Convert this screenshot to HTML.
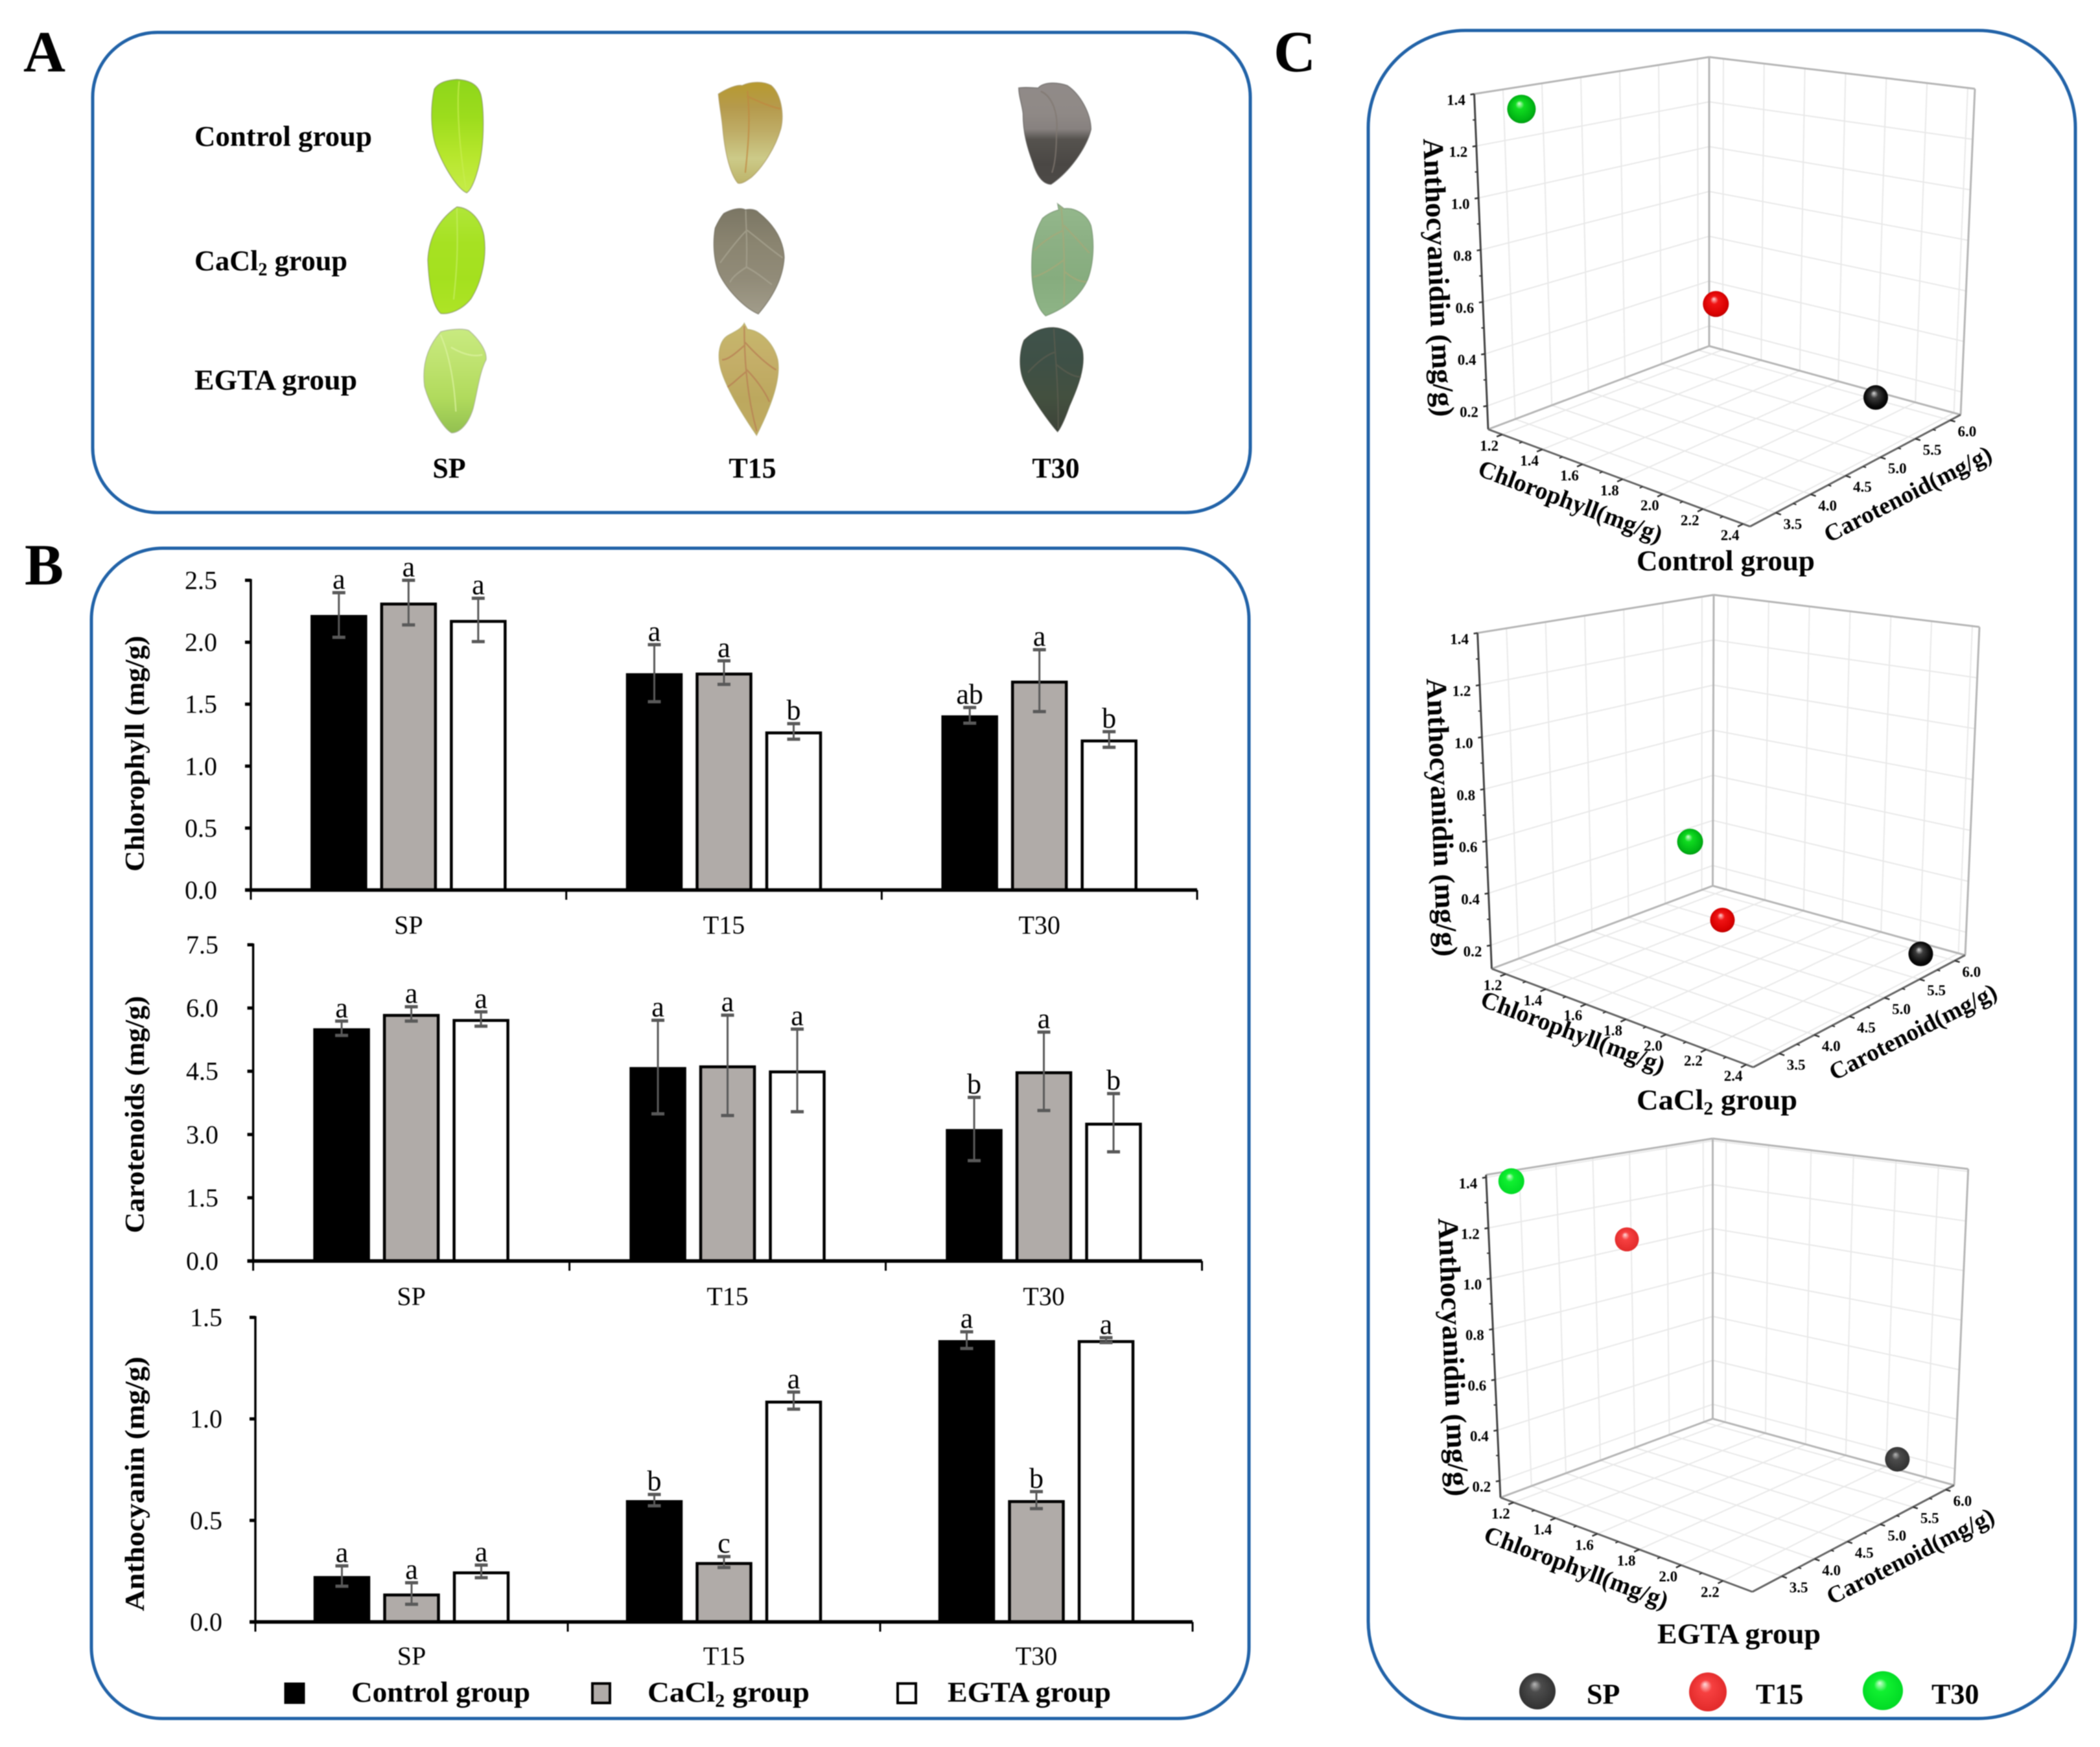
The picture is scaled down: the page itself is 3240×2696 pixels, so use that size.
<!DOCTYPE html>
<html lang="en">
<head>
<meta charset="utf-8">
<title>Leaf phenotypes, pigment contents and 3D pigment distribution</title>
<style>
html,body{margin:0;padding:0;background:#fff;}
svg{display:block;filter:blur(0.9px);}
text{font-family:"Liberation Serif",serif;fill:#000;}
.b{font-weight:bold;}
</style>
</head>
<body>
<svg id="fig" xmlns="http://www.w3.org/2000/svg" width="3240" height="2696" viewBox="0 0 3240 2696">
<defs>
<radialGradient id="sph-black" cx="50%" cy="50%" r="55%" fx="42%" fy="32%"><stop offset="0" stop-color="#d8d8d8"/><stop offset=".28" stop-color="#3c3c3c"/><stop offset=".75" stop-color="#0a0a0a"/><stop offset="1" stop-color="#000"/></radialGradient>
<radialGradient id="sph-gray" cx="50%" cy="50%" r="55%" fx="42%" fy="30%"><stop offset="0" stop-color="#b8b8b8"/><stop offset=".3" stop-color="#4c4c4c"/><stop offset="1" stop-color="#2e2e2e"/></radialGradient>
<radialGradient id="sph-red" cx="50%" cy="50%" r="55%" fx="42%" fy="30%"><stop offset="0" stop-color="#ffd6d6"/><stop offset=".28" stop-color="#f01414"/><stop offset=".8" stop-color="#d80000"/><stop offset="1" stop-color="#b00000"/></radialGradient>
<radialGradient id="sph-lightred" cx="50%" cy="50%" r="55%" fx="42%" fy="30%"><stop offset="0" stop-color="#ffdcdc"/><stop offset=".3" stop-color="#f64040"/><stop offset="1" stop-color="#e02828"/></radialGradient>
<radialGradient id="sph-green" cx="50%" cy="50%" r="55%" fx="42%" fy="30%"><stop offset="0" stop-color="#d4ffd4"/><stop offset=".28" stop-color="#10dc20"/><stop offset=".8" stop-color="#00b414"/><stop offset="1" stop-color="#009010"/></radialGradient>
<radialGradient id="sph-lightgreen" cx="50%" cy="50%" r="55%" fx="42%" fy="30%"><stop offset="0" stop-color="#d4ffd8"/><stop offset=".3" stop-color="#10f030"/><stop offset="1" stop-color="#00d824"/></radialGradient>
</defs>

<rect x="0" y="0" width="3240" height="2696" fill="#fff"/>

<rect x="143" y="50" width="1786" height="741" rx="100" ry="100" fill="none" stroke="#2263a8" stroke-width="5"/>
<rect x="141" y="846" width="1786" height="1806" rx="110" ry="110" fill="none" stroke="#2263a8" stroke-width="5"/>
<rect x="2111" y="47" width="1091" height="2605" rx="150" ry="150" fill="none" stroke="#2263a8" stroke-width="5"/>

<text class="b" x="36" y="110" font-size="90">A</text>
<text class="b" x="38" y="902" font-size="90">B</text>
<text class="b" x="1965" y="110" font-size="90">C</text>

<g>
<text class="b" x="300" y="225" font-size="44" textLength="274" lengthAdjust="spacingAndGlyphs">Control group</text>
<text class="b" x="300" y="417" font-size="44" textLength="236" lengthAdjust="spacingAndGlyphs">CaCl<tspan font-size="28" dy="8">2</tspan><tspan dy="-8"> group</tspan></text>
<text class="b" x="300" y="601" font-size="44" textLength="251" lengthAdjust="spacingAndGlyphs">EGTA group</text>
<text class="b" x="693" y="737" font-size="44" text-anchor="middle">SP</text>
<text class="b" x="1161" y="737" font-size="44" text-anchor="middle">T15</text>
<text class="b" x="1629" y="737" font-size="44" text-anchor="middle">T30</text>
</g>
<g id="leaves"></g>

<g id="bars"></g>

<g>
<rect x="440" y="2598" width="29" height="30" fill="#000" stroke="#000" stroke-width="3"/>
<text class="b" x="542" y="2626" font-size="44" textLength="276" lengthAdjust="spacingAndGlyphs">Control group</text>
<rect x="914" y="2598" width="27" height="30" fill="#b0aba8" stroke="#000" stroke-width="4"/>
<text class="b" x="999" y="2626" font-size="44" textLength="250" lengthAdjust="spacingAndGlyphs">CaCl<tspan font-size="28" dy="8">2</tspan><tspan dy="-8"> group</tspan></text>
<rect x="1385" y="2598" width="28" height="30" fill="#fff" stroke="#000" stroke-width="4"/>
<text class="b" x="1462" y="2626" font-size="44" textLength="252" lengthAdjust="spacingAndGlyphs">EGTA group</text>
</g>

<g id="plots3d"></g>

<text class="b" x="2525" y="880" font-size="44" textLength="275" lengthAdjust="spacingAndGlyphs">Control group</text>
<text class="b" x="2525" y="1712" font-size="44" textLength="248" lengthAdjust="spacingAndGlyphs">CaCl<tspan font-size="28" dy="8">2</tspan><tspan dy="-8">  group</tspan></text>
<text class="b" x="2557" y="2536" font-size="44" textLength="252" lengthAdjust="spacingAndGlyphs">EGTA group</text>

<g>
<ellipse cx="2372" cy="2610" rx="28" ry="28" fill="url(#sph-gray)"/>
<text class="b" x="2448" y="2629" font-size="44">SP</text>
<ellipse cx="2635" cy="2611" rx="29" ry="30" fill="url(#sph-lightred)"/>
<text class="b" x="2709" y="2629" font-size="44">T15</text>
<ellipse cx="2905" cy="2609" rx="31" ry="30" fill="url(#sph-lightgreen)"/>
<text class="b" x="2980" y="2629" font-size="44">T30</text>
</g>
</svg>

<script>
// ---------- chart data ----------
const categories = ['SP', 'T15', 'T30'];
const seriesNames = ['control', 'cacl2', 'egta'];

const chlorophyllControl = [2.22, 1.75, 1.41];
const chlorophyllCacl2 = [2.32, 1.755, 1.69];
const chlorophyllEgta = [2.18, 1.28, 1.215];
const chlorophyllControlErr = [0.18, 0.23, 0.063];
const chlorophyllCacl2Err = [0.18, 0.095, 0.25];
const chlorophyllEgtaErr = [0.175, 0.063, 0.063];
const chlorophyllControlSig = ['a', 'a', 'ab'];
const chlorophyllCacl2Sig = ['a', 'a', 'a'];
const chlorophyllEgtaSig = ['a', 'b', 'b'];
const chlorophyllTicks = ['0.0', '0.5', '1.0', '1.5', '2.0', '2.5'];

const carotenoidControl = [5.52, 4.6, 3.13];
const carotenoidCacl2 = [5.86, 4.64, 4.5];
const carotenoidEgta = [5.74, 4.52, 3.28];
const carotenoidControlErr = [0.17, 1.11, 0.75];
const carotenoidCacl2Err = [0.17, 1.19, 0.93];
const carotenoidEgtaErr = [0.17, 0.98, 0.69];
const carotenoidControlSig = ['a', 'a', 'b'];
const carotenoidCacl2Sig = ['a', 'a', 'a'];
const carotenoidEgtaSig = ['a', 'a', 'b'];
const carotenoidTicks = ['0.0', '1.5', '3.0', '4.5', '6.0', '7.5'];

const anthocyaninControl = [0.226, 0.6, 1.388];
const anthocyaninCacl2 = [0.14, 0.295, 0.6];
const anthocyaninEgta = [0.249, 1.09, 1.388];
const anthocyaninControlErr = [0.05, 0.028, 0.041];
const anthocyaninCacl2Err = [0.053, 0.027, 0.042];
const anthocyaninEgtaErr = [0.031, 0.042, 0.012];
const anthocyaninControlSig = ['a', 'b', 'a'];
const anthocyaninCacl2Sig = ['a', 'c', 'b'];
const anthocyaninEgtaSig = ['a', 'a', 'a'];
const anthocyaninTicks = ['0.0', '0.5', '1.0', '1.5'];

// 3D scatter values, ordered SP, T15, T30
const controlChl3d = [2.22, 1.74, 1.35];
const controlCar3d = [5.52, 4.6, 3.13];
const controlAnt3d = [0.22, 0.59, 1.375];
const cacl2Chl3d = [2.31, 1.74, 1.63];
const cacl2Car3d = [5.86, 4.64, 4.5];
const cacl2Ant3d = [0.13, 0.29, 0.585];
const egtaChl3d = [2.18, 1.28, 1.2];
const egtaCar3d = [5.74, 4.52, 3.2];
const egtaAnt3d = [0.255, 1.09, 1.388];

const chlTicks3dLong = ['1.2', '1.4', '1.6', '1.8', '2.0', '2.2', '2.4'];
const chlTicks3dShort = ['1.2', '1.4', '1.6', '1.8', '2.0', '2.2'];
const carTicks3d = ['3.5', '4.0', '4.5', '5.0', '5.5', '6.0'];
const antTicks3d = ['0.2', '0.4', '0.6', '0.8', '1.0', '1.2', '1.4'];

// ---------- helpers ----------
const NS = 'http://www.w3.org/2000/svg';
function make(tag, attrs, parent) {
  const n = document.createElementNS(NS, tag);
  for (const k in attrs) n.setAttribute(k, attrs[k]);
  parent.appendChild(n);
  return n;
}

// ---------- panel A leaves (outlines traced per leaf) ----------
const leafCards = [
  {n:'control-sp', ox:630, edge:'#7d8a60',
   d:'M225 60C270 62 320 75 335 120C350 170 350 280 340 350C330 420 300 510 270 525C230 510 170 430 130 340C105 280 100 180 120 100C140 70 190 62 225 60Z',
   c:['#8ed61a','#9cdc1c','#b6e62c','#c6ec48'], ys:[60,525],
   veins:'M235 70C225 150 230 300 265 500', vc:'#c8ec50'},
  {n:'cacl2-sp', ox:630, edge:'#7d8a60',
   d:'M225 583C280 585 335 630 350 700C365 790 340 890 290 960C250 1005 190 1025 150 1020C110 990 95 900 90 800C95 720 130 640 225 583Z',
   c:['#b0e638','#a6e122','#a4e01e','#aee426'], ys:[583,1025],
   veins:'M225 590C225 680 235 760 210 960', vc:'#c4ee60'},
  {n:'egta-sp', ox:630, edge:'#a0a890',
   d:'M150 1095C190 1085 250 1080 280 1090C320 1120 365 1170 360 1210C330 1260 320 1340 300 1410C280 1470 240 1510 200 1510C160 1490 100 1400 75 1320C65 1250 75 1170 150 1095Z',
   c:['#c8ea80','#bee26e','#b0da5c','#92c050'], ys:[1085,1510],
   veins:'M150 1110C180 1170 210 1270 220 1420M200 1160C240 1180 290 1200 340 1190', vc:'#dcf2a0'},
  {n:'control-t15', ox:1080, edge:'#a89860',
   d:'M85 120C120 100 170 80 195 85C230 70 290 65 330 85C375 120 390 200 375 260C350 340 290 420 240 460C210 480 190 490 175 485C140 450 115 360 105 260C100 210 90 170 85 120Z',
   c:['#b79a2e','#b59a4c','#bfae68','#ccca88','#bcb268'], ys:[70,490],
   veins:'M220 110C230 200 230 280 210 440M220 130C270 150 320 170 370 180', vc:'#c08840'},
  {n:'cacl2-t15', ox:1080, edge:'#6a6658',
   d:'M110 610C150 590 190 585 210 595C235 590 260 595 270 605C320 640 385 700 390 790C385 880 330 960 270 1022C210 1000 130 930 90 860C60 800 60 720 70 670C85 640 100 620 110 610Z',
   c:['#7b7664','#8a8470','#918b78','#a19c8a'], ys:[590,1022],
   veins:'M212 600C212 660 220 710 215 830M215 680C170 720 120 780 95 810M220 680C280 720 330 760 380 790M215 830C180 850 150 870 140 890M215 830C260 850 300 880 330 900', vc:'#a8a492'},
  {n:'egta-t15', ox:1080, edge:'#b0a868',
   d:'M205 1060L220 1085C280 1090 340 1140 360 1210C375 1290 330 1400 262 1520C200 1440 130 1340 100 1260C75 1190 90 1130 130 1110C160 1095 190 1085 205 1060Z',
   c:['#c6b86c','#c4ae68','#bca85e','#c0aa60'], ys:[1060,1520],
   veins:'M205 1075C205 1200 215 1350 262 1500M207 1150C170 1180 130 1210 105 1210M210 1140C250 1180 310 1230 350 1250M212 1260C170 1290 150 1310 130 1320M215 1250C260 1290 300 1340 320 1380', vc:'#b87c52'},
  {n:'control-t30', ox:1550, edge:'#5a5856',
   d:'M65 95C100 90 130 95 155 95C180 70 240 70 290 85C350 120 400 200 400 265C380 340 300 440 215 490C180 490 150 460 130 400C105 340 85 280 85 200C80 160 65 130 65 95Z',
   c:['#908a88','#8f8986','#87817f','#55524e','#4a4744','#4c4946'], stops:[0,.3,.46,.56,.8,1], ys:[72,490],
   veins:'M170 110C220 130 250 200 240 280C240 340 235 400 220 440', vc:'#807870'},
  {n:'cacl2-t30', ox:1550, edge:'#6e8a68',
   d:'M245 570L275 590C320 585 380 610 400 660C415 720 415 810 385 880C350 950 280 1000 190 1030C150 1000 125 930 125 830C125 750 135 690 175 630C200 610 230 600 250 595L245 570Z',
   c:['#94b88c','#8cb084','#86ac7e','#8eb486'], ys:[570,1030],
   veins:'M262 585C272 680 280 800 275 980M275 660C320 700 360 740 390 770M275 800C230 830 180 860 135 870M270 680C220 700 170 730 140 760M280 850C320 880 350 890 375 890', vc:'#a8a878'},
  {n:'egta-t30', ox:1550, edge:'#3c4238',
   d:'M225 1078C280 1080 340 1110 360 1170C375 1240 340 1320 300 1400C280 1450 260 1490 245 1505C200 1460 130 1370 95 1310C60 1250 70 1170 90 1130C130 1095 170 1078 225 1078Z',
   c:['#3f524a','#3e5046','#43503f','#3c4238'], ys:[1078,1505],
   veins:'M228 1085C232 1180 250 1310 248 1490M230 1180C190 1190 140 1230 110 1260M240 1230C280 1260 320 1280 350 1280', vc:'#5c5c50'}
];
const leafLayer = document.getElementById('leaves');
const leafDefs = document.querySelector('defs');
leafCards.forEach(function (lf) {
  const yTop = lf.ys[0];
  const yBot = lf.ys[1];
  const grad = make('linearGradient', {id:'lg-' + lf.n, gradientUnits:'userSpaceOnUse', x1:0, y1:yTop, x2:0, y2:yBot}, leafDefs);
  lf.c.forEach(function (col, i) {
    const off = lf.stops ? lf.stops[i] : i / (lf.c.length - 1);
    make('stop', {offset: off, 'stop-color': col}, grad);
  });
  const g = make('g', {transform:'translate(' + lf.ox + ' 100) scale(.3333 .3762)'}, leafLayer);
  
  
  make('path', {d: lf.d, fill: 'url(#lg-' + lf.n + ')', stroke: lf.edge, 'stroke-width': 5, 'stroke-opacity': .55}, g);
  make('path', {d: lf.veins, fill:'none', stroke: lf.vc, 'stroke-width': 7, opacity: .7, 'stroke-linecap':'round'}, g);
});

// ---------- panel B bar charts ----------
const barFills = ['#000000', '#b0aba8', '#ffffff'];
const barStyle = {width: 83, pitch: 107.5, stroke: 4.5};

function xBand(cfg, i) {
  return cfg.left + (i + 0.5) * (cfg.right - cfg.left) / categories.length;
}
function xBar(cfg, i, s) {
  return xBand(cfg, i) + (s - 1) * barStyle.pitch;
}
function yVal(cfg, v) {
  return cfg.y0 - (v / cfg.max) * (cfg.y0 - cfg.top);
}

const barLayer = document.getElementById('bars');

function drawBarChart(cfg) {
  const g = make('g', {}, barLayer);
  
  

  // y axis and ticks
  const yAxis = make('line', {x1:cfg.left, x2:cfg.left, y1:cfg.top - 2, y2:cfg.y0 + 2, stroke:'#000', 'stroke-width':3.5}, g);
  
  
  cfg.ticks.forEach(function (t) {
    const yy = yVal(cfg, parseFloat(t));
    const tick = make('line', {x1:cfg.left - 9, x2:cfg.left, y1:yy, y2:yy, stroke:'#000', 'stroke-width':5}, g);
    
    
    const lab = make('text', {x:cfg.tickX, y:yy + 13.5, 'font-size':40, 'text-anchor':'end'}, g);
    lab.textContent = t;
    
    
  });

  // y title
  const title = make('text', {'font-size':42, 'font-weight':'bold', 'text-anchor':'middle', textLength:cfg.titleLen, lengthAdjust:'spacingAndGlyphs', transform:'translate(222 ' + cfg.titleY + ') rotate(-90)'}, g);
  title.textContent = cfg.title;
  
  

  // bars
  cfg.values.forEach(function (vals, s) {
    vals.forEach(function (v, i) {
      const cx = xBar(cfg, i, s);
      const topY = yVal(cfg, v);
      const bar = make('rect', {x:cx - barStyle.width / 2, y:topY + barStyle.stroke / 2, width:barStyle.width, height:cfg.y0 - topY - barStyle.stroke / 2, fill:barFills[s], stroke:'#000', 'stroke-width':barStyle.stroke}, g);
      
      
    });
  });

  // x axis
  const xAxis = make('line', {x1:cfg.left - 9, x2:cfg.right, y1:cfg.y0, y2:cfg.y0, stroke:'#000', 'stroke-width':5.5}, g);
  
  
  for (let k = 0; k <= categories.length; k++) {
    const tx = cfg.left + k * (cfg.right - cfg.left) / categories.length;
    const xt = make('line', {x1:tx, x2:tx, y1:cfg.y0, y2:cfg.y0 + 15, stroke:'#000', 'stroke-width':3}, g);
    
    
  }
  categories.forEach(function (c, i) {
    const lab = make('text', {x:xBand(cfg, i), y:cfg.catY, 'font-size':40, 'text-anchor':'middle'}, g);
    lab.textContent = c;
    
    
  });

  // error bars and significance letters
  cfg.errors.forEach(function (errs, s) {
    errs.forEach(function (e, i) {
      const cx = xBar(cfg, i, s);
      const v = cfg.values[s][i];
      const hi = yVal(cfg, v + e);
      const lo = yVal(cfg, v - e);
      const eg = make('path', {d:'M' + cx + ' ' + hi + 'V' + lo, fill:'none', stroke:'#595959', 'stroke-width':3}, g);
      
      
      const caps = make('path', {d:'M' + (cx - 10) + ' ' + hi + 'H' + (cx + 10) + 'M' + (cx - 10) + ' ' + lo + 'H' + (cx + 10), fill:'none', stroke:'#595959', 'stroke-width':5}, g);
      
      
      const sig = make('text', {x:cx, y:hi - 6, 'font-size':44, 'text-anchor':'middle'}, g);
      sig.textContent = cfg.letters[s][i];
      
      
    });
  });
}

drawBarChart({
  name:'chlorophyll', title:'Chlorophyll (mg/g)', titleLen:364, titleY:1163,
  left:387, right:1847, top:895.5, y0:1373.5, max:2.5, tickX:335, catY:1441,
  ticks:chlorophyllTicks,
  values:[chlorophyllControl, chlorophyllCacl2, chlorophyllEgta],
  errors:[chlorophyllControlErr, chlorophyllCacl2Err, chlorophyllEgtaErr],
  letters:[chlorophyllControlSig, chlorophyllCacl2Sig, chlorophyllEgtaSig]
});
drawBarChart({
  name:'carotenoids', title:'Carotenoids (mg/g)', titleLen:366, titleY:1720,
  left:390.6, right:1854.5, top:1458, y0:1946, max:7.5, tickX:337, catY:2014,
  ticks:carotenoidTicks,
  values:[carotenoidControl, carotenoidCacl2, carotenoidEgta],
  errors:[carotenoidControlErr, carotenoidCacl2Err, carotenoidEgtaErr],
  letters:[carotenoidControlSig, carotenoidCacl2Sig, carotenoidEgtaSig]
});
drawBarChart({
  name:'anthocyanin', title:'Anthocyanin (mg/g)', titleLen:393, titleY:2290,
  left:394, right:1840, top:2033, y0:2503, max:1.5, tickX:343, catY:2569,
  ticks:anthocyaninTicks,
  values:[anthocyaninControl, anthocyaninCacl2, anthocyaninEgta],
  errors:[anthocyaninControlErr, anthocyaninCacl2Err, anthocyaninEgtaErr],
  letters:[anthocyaninControlSig, anthocyaninCacl2Sig, anthocyaninEgtaSig]
});

// ---------- panel C 3D scatter ----------
const layer3d = document.getElementById('plots3d');

function mix(a, b, t) { return a + (b - a) * t; }
function quad(c, u, v) {
  // c: [corner at u0 v0, u1 v0, u1 v1, u0 v1]
  return [0, 1].map(function (k) {
    return (1 - u) * (1 - v) * c[0][k] + u * (1 - v) * c[1][k] + u * v * c[2][k] + (1 - u) * v * c[3][k];
  });
}
function uScale(cfg, chl) { return (chl - cfg.chlRange[0]) / (cfg.chlRange[1] - cfg.chlRange[0]); }
function vScale(cfg, car) { return (car - cfg.carRange[0]) / (cfg.carRange[1] - cfg.carRange[0]); }
function wScale(cfg, ant) { return (ant - cfg.antRange[0]) / (cfg.antRange[1] - cfg.antRange[0]); }
function project(cfg, u, v, w) {
  const a = quad(cfg.floor, u, v);
  const b = quad(cfg.ceil, u, v);
  return [mix(a[0], b[0], w), mix(a[1], b[1], w)];
}
function seg(g, cfg, p, q, stroke, width, name) {
  const A = project(cfg, p[0], p[1], p[2]);
  const B = project(cfg, q[0], q[1], q[2]);
  const l = make('line', {x1:A[0], y1:A[1], x2:B[0], y2:B[1], stroke:stroke, 'stroke-width':width}, g);
  
  
  return l;
}
function tickText(g, at, dx, dy, str, name) {
  const t = make('text', {x:at[0] + dx, y:at[1] + dy + 8, 'font-size':23, 'font-weight':'bold', 'text-anchor':'middle'}, g);
  t.textContent = str;
  
  
}

function draw3d(cfg) {
  const g = make('g', {}, layer3d);
  
  
  const gridColor = '#e9e9e9';
  const us = cfg.chlTicks.map(function (t) { return uScale(cfg, parseFloat(t)); });
  const vs = carTicks3d.map(function (t) { return vScale(cfg, parseFloat(t)); });
  const ws = antTicks3d.map(function (t) { return wScale(cfg, parseFloat(t)); });

  us.forEach(function (u) {
    seg(g, cfg, [u, 0, 0], [u, 1, 0], gridColor, 2, cfg.name + '-floor-grid');
    seg(g, cfg, [u, 1, 0], [u, 1, 1], gridColor, 2, cfg.name + '-wall-grid');
  });
  vs.forEach(function (v) {
    seg(g, cfg, [0, v, 0], [1, v, 0], gridColor, 2, cfg.name + '-floor-grid');
    seg(g, cfg, [0, v, 0], [0, v, 1], gridColor, 2, cfg.name + '-wall-grid');
  });
  ws.forEach(function (w) {
    seg(g, cfg, [0, 0, w], [0, 1, w], gridColor, 2, cfg.name + '-wall-grid');
    seg(g, cfg, [0, 1, w], [1, 1, w], gridColor, 2, cfg.name + '-wall-grid');
  });

  // box frame
  const edge = '#b6b6b6';
  seg(g, cfg, [0, 0, 1], [0, 1, 1], edge, 3, cfg.name + '-frame-edge');
  seg(g, cfg, [0, 1, 1], [1, 1, 1], edge, 3, cfg.name + '-frame-edge');
  seg(g, cfg, [1, 1, 0], [1, 1, 1], edge, 3, cfg.name + '-frame-edge');
  seg(g, cfg, [0, 1, 0], [0, 1, 1], edge, 3, cfg.name + '-frame-edge');
  seg(g, cfg, [0, 0, 0], [0, 1, 0], edge, 3, cfg.name + '-frame-edge');
  seg(g, cfg, [0, 1, 0], [1, 1, 0], edge, 3, cfg.name + '-frame-edge');
  // axes
  seg(g, cfg, [0, 0, 0], [0, 0, 1], '#444', 3, cfg.name + '-anthocyanidin-axis');
  seg(g, cfg, [0, 0, 0], [1, 0, 0], '#666', 3, cfg.name + '-chlorophyll-axis');
  seg(g, cfg, [1, 0, 0], [1, 1, 0], '#666', 3, cfg.name + '-carotenoid-axis');

  // ticks and labels
  us.forEach(function (u, i) {
    seg(g, cfg, [u, -0.025, 0], [u, 0, 0], '#333', 2.5, cfg.name + '-chlorophyll-tick');
    tickText(g, project(cfg, u, 0, 0), -20, 17, cfg.chlTicks[i], cfg.name + '-chlorophyll-tick-label');
    if (i < us.length - 1) {
      const m = (u + us[i + 1]) / 2;
      seg(g, cfg, [m, -0.014, 0], [m, 0, 0], '#333', 2, cfg.name + '-chlorophyll-minor-tick');
    }
  });
  vs.forEach(function (v, i) {
    seg(g, cfg, [1, v, 0], [1.02, v, 0], '#333', 2.5, cfg.name + '-carotenoid-tick');
    tickText(g, project(cfg, 1, v, 0), 26, 17, carTicks3d[i], cfg.name + '-carotenoid-tick-label');
    if (i < vs.length - 1) {
      const m = (v + vs[i + 1]) / 2;
      seg(g, cfg, [1, m, 0], [1.012, m, 0], '#333', 2, cfg.name + '-carotenoid-minor-tick');
    }
  });
  ws.forEach(function (w, i) {
    const at = project(cfg, 0, 0, w);
    const tk = make('line', {x1:at[0] - 6, y1:at[1] + 1, x2:at[0], y2:at[1], stroke:'#333', 'stroke-width':2.5}, g);
    
    
    tickText(g, at, -28, 9, antTicks3d[i], cfg.name + '-anthocyanidin-tick-label');
    if (i < ws.length - 1) {
      const mp = project(cfg, 0, 0, (w + ws[i + 1]) / 2);
      const mt = make('line', {x1:mp[0] - 4, y1:mp[1], x2:mp[0], y2:mp[1], stroke:'#333', 'stroke-width':2}, g);
      
      
    }
  });

  // axis titles
  const tz = make('text', {'font-size':45, 'font-weight':'bold', textLength:430, lengthAdjust:'spacingAndGlyphs', transform:'translate(' + cfg.zTitle[0] + ' ' + cfg.zTitle[1] + ') rotate(87.7)'}, g);
  tz.textContent = 'Anthocyanidin (mg/g)';
  
  
  const tx = make('text', {'font-size':38, 'font-weight':'bold', textLength:cfg.xTitle[2], lengthAdjust:'spacingAndGlyphs', transform:'translate(' + cfg.xTitle[0] + ' ' + cfg.xTitle[1] + ') rotate(20.5)'}, g);
  tx.textContent = 'Chlorophyll(mg/g)';
  
  
  const ty = make('text', {'font-size':37, 'font-weight':'bold', textLength:cfg.yTitle[2], lengthAdjust:'spacingAndGlyphs', transform:'translate(' + cfg.yTitle[0] + ' ' + cfg.yTitle[1] + ') rotate(-27)'}, g);
  ty.textContent = 'Carotenoid(mg/g)';
  
  

  // spheres
  categories.forEach(function (c, i) {
    const p = project(cfg, uScale(cfg, cfg.chl[i]), vScale(cfg, cfg.car[i]), wScale(cfg, cfg.ant[i]));
    const s = make('circle', {cx:p[0], cy:p[1], r:cfg.sphereR[i], fill:'url(#' + cfg.sphereFill[i] + ')'}, g);
    
    
  });
}

draw3d({
  name:'control', chl:controlChl3d, car:controlCar3d, ant:controlAnt3d,
  chlTicks:chlTicks3dLong, chlRange:[1.13, 2.435], carRange:[3.13, 6.15], antRange:[0.11, 1.4],
  floor:[[2296,662.5],[2700,812.5],[3025,640],[2637,534]],
  ceil:[[2274.5,145],[2705,222],[3047,137],[2637,88]],
  zTitle:[2196,214], xTitle:[2278,733,300], yTitle:[2822,838,285],
  sphereR:[19,20,22], sphereFill:['sph-black','sph-red','sph-green']
});
draw3d({
  name:'cacl2', chl:cacl2Chl3d, car:cacl2Car3d, ant:cacl2Ant3d,
  chlTicks:chlTicks3dLong, chlRange:[1.13, 2.435], carRange:[3.13, 6.15], antRange:[0.11, 1.4],
  floor:[[2301.5,1495],[2705,1647],[3032,1474],[2642.5,1367]],
  ceil:[[2279.6,976.8],[2710,1057],[3054,967.5],[2644,918]],
  zTitle:[2201,1047], xTitle:[2282,1552,300], yTitle:[2830,1668,285],
  sphereR:[19,19,20], sphereFill:['sph-black','sph-red','sph-green']
});
draw3d({
  name:'egta', chl:egtaChl3d, car:egtaCar3d, ant:egtaAnt3d,
  chlTicks:chlTicks3dShort, chlRange:[1.137, 2.34], carRange:[3.05, 6.13], antRange:[0.134, 1.41],
  floor:[[2315,2311],[2703.6,2456.5],[3015,2292],[2642.5,2189.4]],
  ceil:[[2292.7,1813],[2708,1890],[3036.7,1804],[2642.5,1757]],
  zTitle:[2219,1880], xTitle:[2287,2378,300], yTitle:[2826,2477,285],
  sphereR:[19,18.5,20], sphereFill:['sph-gray','sph-lightred','sph-lightgreen']
});
</script>
</body>
</html>
